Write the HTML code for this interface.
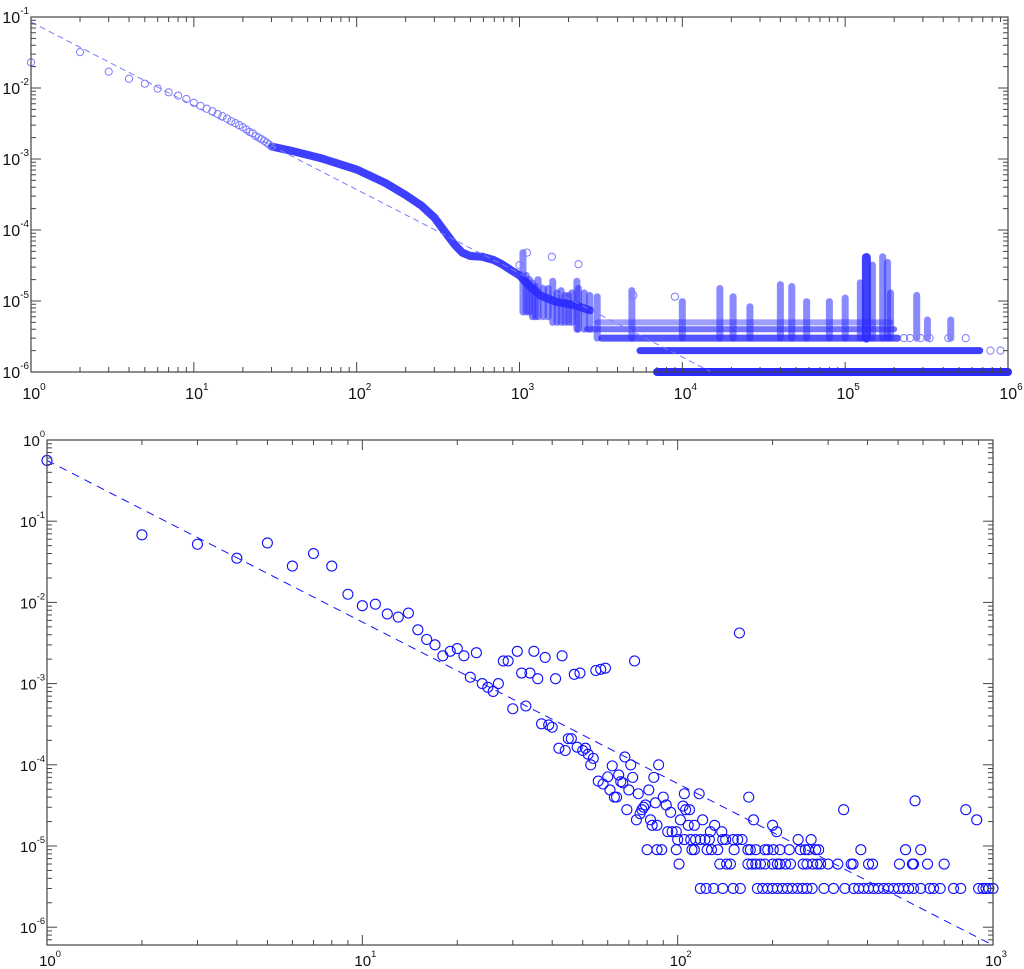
<!DOCTYPE html>
<html><head><meta charset="utf-8"><style>
html,body{margin:0;padding:0;background:#fff;}
svg{display:block;font-family:"Liberation Sans",sans-serif;}
</style></head><body>
<svg id="chart" width="1024" height="969" viewBox="0 0 1024 969" xmlns="http://www.w3.org/2000/svg">
<g id="top"></g>
<g id="bot"></g>
</svg>
<script>
// ---------- TOP PANEL DATA ----------
const topDiscreteX = [1,2,3,4,5,6,7,8,9,10,11,12,13,14,15,16,17,18,19,20,21,22,23,24,25,26,27,28,29,30];
const topDiscreteY = [0.023,0.032,0.017,0.0135,0.0115,0.0098,0.0087,0.0078,0.0070,0.0062,0.0056,0.0051,0.0047,0.0043,0.0040,0.0037,0.0034,0.0032,0.0030,0.0028,0.0026,0.0024,0.0023,0.0021,0.0020,0.0019,0.0018,0.0017,0.0016,0.0015];
const topCurveX = [30,40,60,100,150,200,250,300,350,400,445,500,590,690,780,890,1000,1130,1340,1660,2200,2700];
const topCurveY = [1.5e-3,1.3e-3,1.03e-3,7.1e-4,4.6e-4,3.1e-4,2.2e-4,1.5e-4,9.3e-5,6.2e-5,4.8e-5,4.3e-5,4.2e-5,3.8e-5,3.3e-5,2.7e-5,2.3e-5,1.7e-5,1.2e-5,9.8e-6,8.7e-6,7.4e-6];
// horizontal quantised rows: level, x start, x end
const rowLevel = [1e-6,2e-6,3e-6,4e-6,5e-6];
const rowStart = [7000,5500,3200,2600,3000];
const rowEnd   = [1e6,6.7e5,2.1e5,2.0e5,1.9e5];
// stacked columns: x, top value, bottom value
const colX   = [1050,1100,1150,1200,1250,1300,1400,1500,1600,1700,1800,1900,2000,2100,2250,2300,2500,2700,3000,4900,10000,17000,20500,26000,40000,47000,58000,80000,100000,124000,135000,147000,170000,182000,190000,275000,320000,445000];
const colTop = [4.8e-5,2.3e-5,2.0e-5,1.8e-5,1.6e-5,2e-5,1.5e-5,1.5e-5,1.9e-5,1.3e-5,1.4e-5,1.2e-5,1.2e-5,1.3e-5,1.9e-5,1.5e-5,1.3e-5,1.2e-5,1.15e-5,1.4e-5,9.8e-6,1.5e-5,1.15e-5,8.3e-6,1.7e-5,1.6e-5,9.8e-6,9.8e-6,1.1e-5,1.8e-5,4.1e-5,3.2e-5,4.2e-5,3.5e-5,1.3e-5,1.2e-5,5.4e-6,5.4e-6];
const colBot = [7e-6,7e-6,7e-6,6e-6,6e-6,6e-6,6e-6,6e-6,5e-6,5e-6,5e-6,5e-6,5e-6,5e-6,4e-6,4e-6,4e-6,4e-6,3e-6,3e-6,3e-6,3e-6,3e-6,3e-6,3e-6,3e-6,3e-6,3e-6,3e-6,3e-6,3e-6,3e-6,3e-6,3e-6,3e-6,3e-6,3e-6,3e-6];
const topOutX = [1000,1110,1580,2300,5000,9000,2.3e5,2.5e5,2.9e5,3.3e5,4.3e5,5.5e5,7.8e5,9e5];
const topOutY = [3.2e-5,4.8e-5,4.2e-5,3.3e-5,1.2e-5,1.15e-5,3e-6,3e-6,3e-6,3e-6,3e-6,3e-6,2e-6,2e-6];
const topFitAmp = [0.085];
const topFitExp = [-1.18];
const topXTicks = ['0','1','2','3','4','5','6'];
const topYTicks = ['-1','-2','-3','-4','-5','-6'];

// ---------- BOTTOM PANEL DATA ----------
const botX = [1,2,3,4,5,6,7,8,9,10,11,12,13,14,15,16,17,18,19,20,21,22,23,31,35,28,29,38,43,73,55,57,59,47,49,32,34,36,41,24,25,26,27,30,33,37,39,40,45,46,42,44,48,50,51,52,54,53,68,71,62,87,56,58,60,65,66,67,72,84,61,63,64,70,75,81,90,105,117,69,76,77,78,79,85,92,95,104,106,109,74,82,83,86,102,108,113,120,131,93,96,99,127,138,157,168,174,200,206,336,566,820,888];
const botY = [0.56,0.068,0.052,0.035,0.054,0.028,0.040,0.028,0.0126,0.0091,0.0095,0.0072,0.0066,0.0074,0.0046,0.0035,0.0030,2.2e-3,2.5e-3,2.7e-3,2.2e-3,1.2e-3,2.4e-3,2.5e-3,2.5e-3,1.9e-3,1.9e-3,2.1e-3,2.2e-3,1.9e-3,1.45e-3,1.5e-3,1.55e-3,1.3e-3,1.35e-3,1.35e-3,1.35e-3,1.15e-3,1.15e-3,1.0e-3,9e-4,8e-4,1.0e-3,4.9e-4,5.3e-4,3.2e-4,3.1e-4,2.9e-4,2.1e-4,2.1e-4,1.6e-4,1.5e-4,1.65e-4,1.5e-4,1.6e-4,1.35e-4,1.2e-4,1.0e-4,1.25e-4,1.0e-4,9.7e-5,1.0e-4,6.3e-5,5.8e-5,7.1e-5,7.5e-5,6.2e-5,6e-5,7e-5,7e-5,4.9e-5,4e-5,4e-5,4.9e-5,4.4e-5,4.9e-5,4e-5,4.4e-5,4.4e-5,2.8e-5,2.5e-5,2.8e-5,3.0e-5,3.2e-5,3.4e-5,3.2e-5,2.6e-5,3.1e-5,2.8e-5,2.8e-5,2.1e-5,2.1e-5,1.8e-5,1.8e-5,2.1e-5,1.8e-5,1.8e-5,2.1e-5,1.8e-5,1.5e-5,1.5e-5,1.5e-5,1.5e-5,1.5e-5,4.2e-3,4.0e-5,2.1e-5,1.8e-5,1.5e-5,2.8e-5,3.6e-5,2.8e-5,2.1e-5];
const botRow12X = [100,105,110,114,118,122,126,139,142,150,155,160,241,265];
const botRow9X = [80,86,89,99,111,113,124,128,134,151,167,170,177,189,193,201,211,226,245,254,260,274,280,381,528,590];
const botRow6X = [101,136,143,147,167,172,177,183,189,200,207,211,220,228,250,257,268,277,284,300,322,355,360,403,415,505,555,560,620,700];
const botRow3X = [118,123,130,139,150,158,179,186,193,200,207,215,223,231,240,249,257,267,291,312,339,362,375,389,403,418,433,450,466,484,502,520,540,560,590,630,648,680,750,790,900,930,950,970,1000];
const botRowLevels = [1.2e-5,9e-6,6e-6,3e-6];
const botFitAmp = [0.56];
const botFitExp = [-1.99];
const botXTicks = ['0','1','2','3'];
const botYTicks = ['0','-1','-2','-3','-4','-5','-6'];

const NS = 'http://www.w3.org/2000/svg';
function mk(tag, attrs, parent){const e=document.createElementNS(NS,tag);for(const k in attrs)e.setAttribute(k,attrs[k]);parent.appendChild(e);return e;}

function logScale(d0,d1,p0,p1){return v=>p0+(Math.log10(v)-d0)/(d1-d0)*(p1-p0);}

function drawAxes(g, L,R,T,B, xd0,xd1, yd0,yd1, xTicks, yTicks, sx, sy, xLabelY, fs){
  const frame=mk('rect',{x:L,y:T,width:R-L,height:B-T,fill:'none',stroke:'#444','stroke-width':1.2},g);
  
  
  for(let d=Math.floor(xd0); d<=Math.ceil(xd1); d++){
    for(let m=1;m<10;m++){
      const v=m*Math.pow(10,d); const lv=Math.log10(v);
      if(lv<xd0-1e-9||lv>xd1+1e-9) continue;
      const x=sx(v), len=(m===1)?10:5;
      const t1=mk('line',{x1:x,y1:B,x2:x,y2:B-len,stroke:'#444','stroke-width':1},g);
      
      
      const t2=mk('line',{x1:x,y1:T,x2:x,y2:T+len,stroke:'#444','stroke-width':1},g);
      
      
    }
  }
  for(let d=Math.floor(yd1); d<=Math.ceil(yd0); d++){
    for(let m=1;m<10;m++){
      const v=m*Math.pow(10,d); const lv=Math.log10(v);
      if(lv<yd1-1e-9||lv>yd0+1e-9) continue;
      const y=sy(v), len=(m===1)?10:5;
      const t1=mk('line',{x1:L,y1:y,x2:L+len,y2:y,stroke:'#444','stroke-width':1},g);
      
      
      const t2=mk('line',{x1:R,y1:y,x2:R-len,y2:y,stroke:'#444','stroke-width':1},g);
      
      
    }
  }
  xTicks.forEach(e=>{
    const x=sx(Math.pow(10,+e));
    const t=mk('text',{x:x+3,y:xLabelY,'text-anchor':'middle','font-size':fs,fill:'#111'},g);
    
    
    t.appendChild(document.createTextNode('10'));
    const s=mk('tspan',{dy:-9,'font-size':fs*0.62},t); s.textContent=e;
  });
  yTicks.forEach(e=>{
    const y=sy(Math.pow(10,+e));
    const t=mk('text',{x:L-2,y:y+6,'text-anchor':'end','font-size':fs,fill:'#111'},g);
    
    
    t.appendChild(document.createTextNode('10'));
    const s=mk('tspan',{dy:-9,'font-size':fs*0.62},t); s.textContent=e;
  });
}

// ---------- TOP ----------
(function(){
  const g=document.getElementById('top');
  const L=31,R=1008,T=17,B=372;
  const sx=logScale(0,6,L,R), sy=logScale(-1,-6,T,B);
  const col='#2a2aff', light='#7a7aff';
  const dg=mk('g',{},g);
  
  
  const rowOp=[1,0.9,0.8,0.65,0.45];
  rowLevel.forEach((lv,i)=>{
    const l=mk('line',{x1:sx(rowStart[i]),y1:sy(lv),x2:sx(rowEnd[i]),y2:sy(lv),stroke:col,'stroke-width':i===0?8:(i<3?7:6),'stroke-linecap':'round','stroke-opacity':rowOp[i]},dg);
    
    
  });
  colX.forEach((x,i)=>{
    const l=mk('line',{x1:sx(x),y1:sy(colTop[i]),x2:sx(x),y2:sy(colBot[i]),stroke:col,'stroke-width':(i===30)?9:7,'stroke-linecap':'round','stroke-opacity':(i===30)?0.9:0.55},dg);
    
    
  });
  const pts=topCurveX.map((x,i)=>sx(x)+','+sy(topCurveY[i])).join(' ');
  const pl=mk('polyline',{points:pts,fill:'none',stroke:col,'stroke-width':8,'stroke-linejoin':'round','stroke-linecap':'round','stroke-opacity':0.9},dg);
  
  
  topDiscreteX.forEach((x,i)=>{
    const c=mk('circle',{cx:sx(x),cy:sy(topDiscreteY[i]),r:3.6,fill:'none',stroke:light,'stroke-width':1},dg);
    
    
  });
  topOutX.forEach((x,i)=>{
    const c=mk('circle',{cx:sx(x),cy:sy(topOutY[i]),r:3.6,fill:'none',stroke:light,'stroke-width':1},dg);
    
    
  });
  const f=x=>topFitAmp[0]*Math.pow(x,topFitExp[0]);
  const xe=Math.pow(10,(Math.log10(1e-6/topFitAmp[0]))/topFitExp[0]);
  const fl=mk('line',{x1:sx(1),y1:sy(f(1)),x2:sx(xe),y2:sy(f(xe)),stroke:light,'stroke-width':1,'stroke-dasharray':'6,4'},g);
  
  
  drawAxes(g,L,R,T,B,0,6,-1,-6,topXTicks,topYTicks,sx,sy,399,16);
})();

// ---------- BOTTOM ----------
(function(){
  const g=document.getElementById('bot');
  const L=47,R=993,T=440,B=945;
  const yBotExp=-(B-T)/81.2;
  const sx=logScale(0,3,L,R), sy=logScale(0,yBotExp,T,B);
  const col='#1010ff';
  const dg=mk('g',{},g);
  
  
  function pt(x,y){
    const c=mk('circle',{cx:sx(x),cy:sy(y),r:5,fill:'none',stroke:col,'stroke-width':1.1},dg);
    
    
  }
  botX.forEach((x,i)=>pt(x,botY[i]));
  [botRow12X,botRow9X,botRow6X,botRow3X].forEach((arr,k)=>arr.forEach(x=>pt(x,botRowLevels[k])));
  const f=x=>botFitAmp[0]*Math.pow(x,botFitExp[0]);
  const fl=mk('line',{x1:sx(1),y1:sy(f(1)),x2:sx(1000),y2:sy(f(1000)),stroke:col,'stroke-width':1,'stroke-dasharray':'8,6'},g);
  
  
  drawAxes(g,L,R,T,B,0,3,0,yBotExp,botXTicks,botYTicks,sx,sy,966,15);
})();
</script>
</body></html>
